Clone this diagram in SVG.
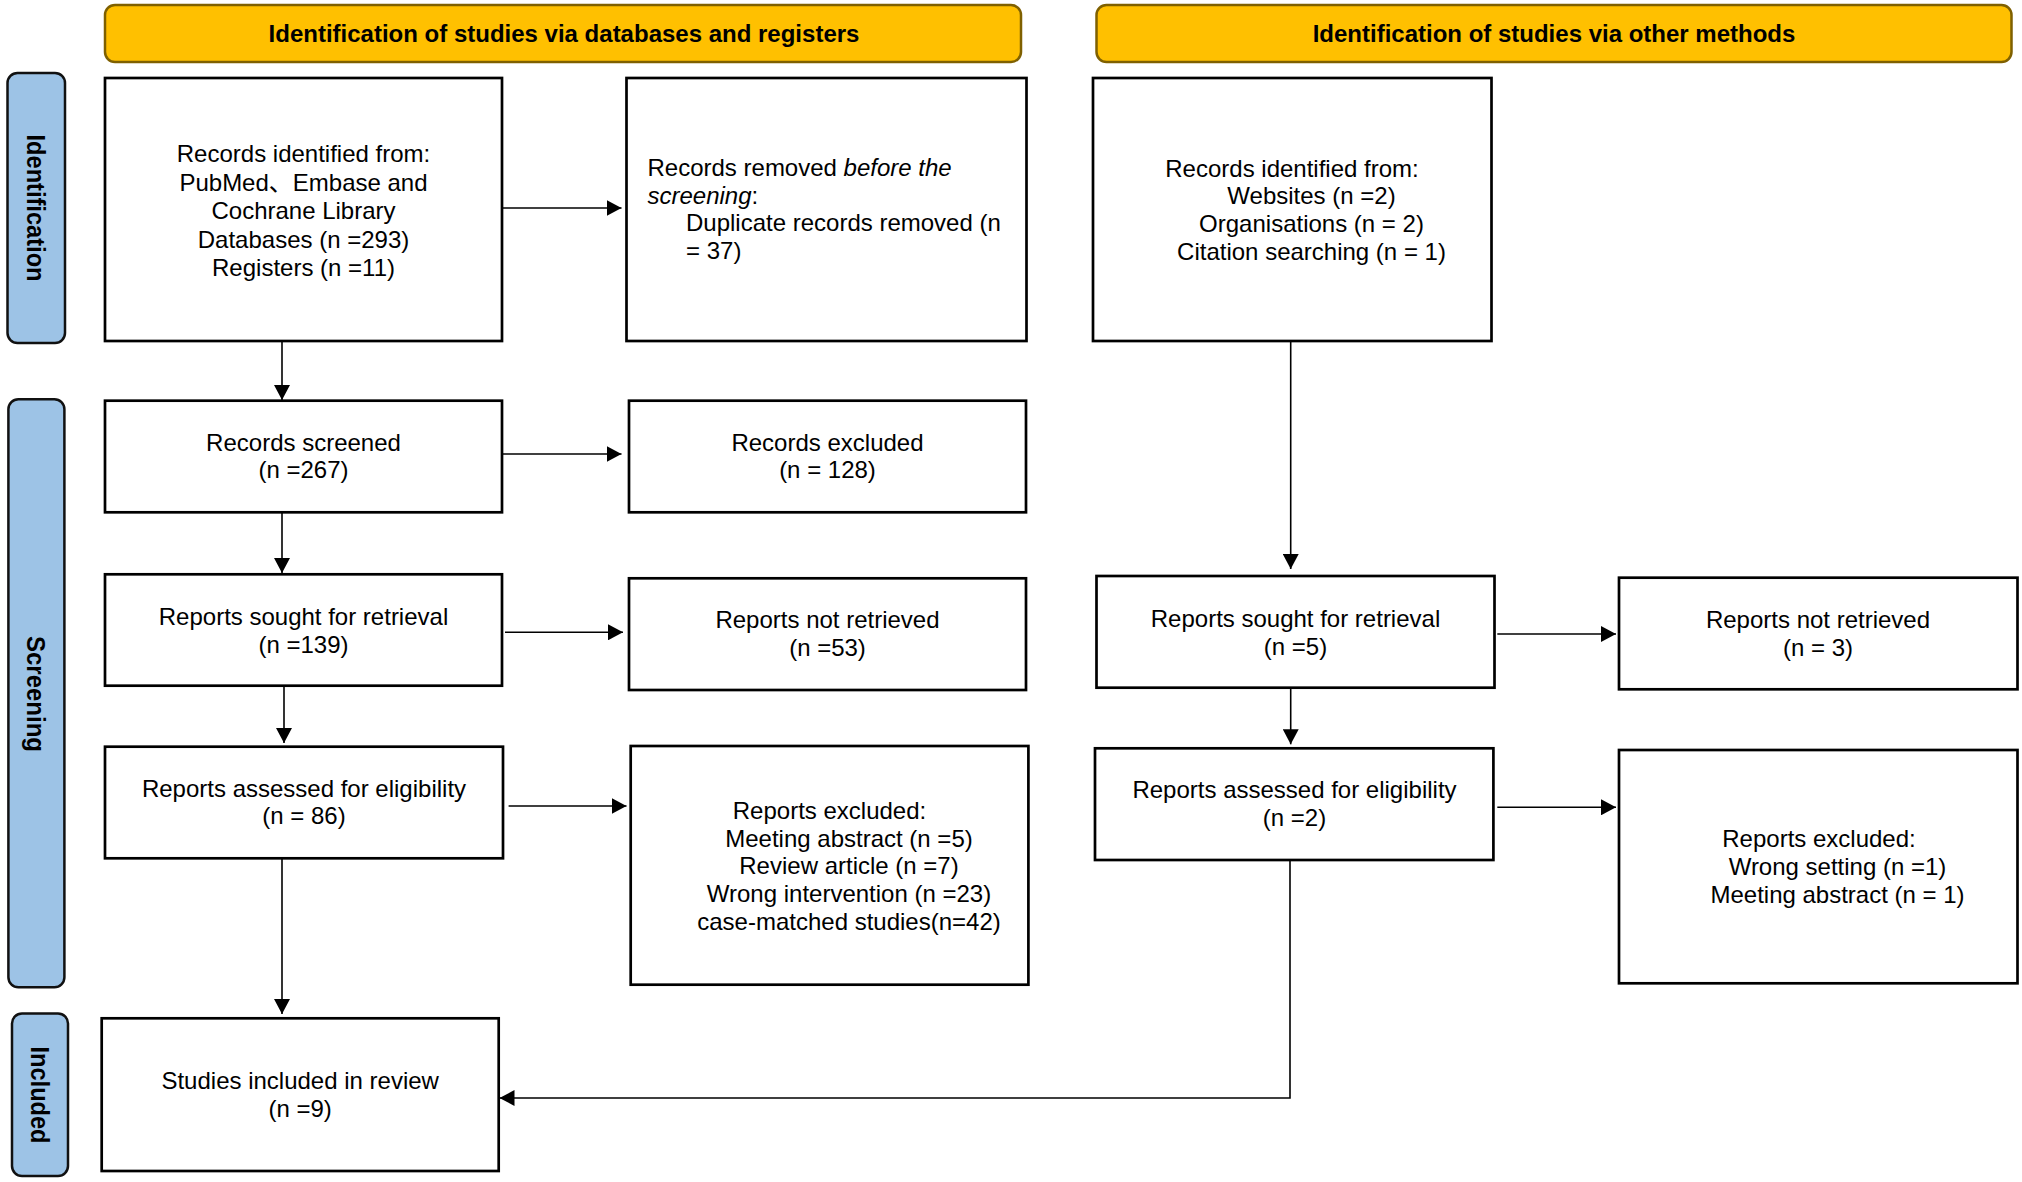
<svg xmlns="http://www.w3.org/2000/svg" width="2022" height="1182" viewBox="0 0 2022 1182">
<defs>
<style>
.hdr{fill:#FFC000;stroke:#7F6000;stroke-width:2.5}
.side{fill:#9DC3E6;stroke:#111;stroke-width:2.5}
.box{fill:#fff;stroke:#000;stroke-width:2.7}
.t{font-family:"Liberation Sans",Arial,"Noto Sans CJK SC",sans-serif;font-size:24px;fill:#000}
.c{text-anchor:middle}
.b{font-weight:bold}
.conn{fill:none;stroke:#000;stroke-width:1.6}
</style>
<marker id="ah" markerUnits="userSpaceOnUse" markerWidth="16" markerHeight="16" refX="15" refY="8" orient="auto">
<path d="M0,0 L15,8 L0,16 z" fill="#000"/>
</marker>
</defs>
<rect width="2022" height="1182" fill="#fff"/>

<g id="header-databases">
<rect class="hdr" x="105" y="5" width="916" height="57" rx="10"/>
<text class="t c b" x="564" y="42">Identification of studies via databases and registers</text>
</g>
<g id="header-other">
<rect class="hdr" x="1096.5" y="5" width="915" height="57" rx="10"/>
<text class="t c b" x="1554" y="42">Identification of studies via other methods</text>
</g>

<g id="label-identification">
<rect class="side" x="7.5" y="73" width="57.5" height="270" rx="10"/>
<text class="t c b" style="font-size:26px" transform="translate(36,208) rotate(90)" y="9.5" textLength="147" lengthAdjust="spacingAndGlyphs">Identification</text>
</g>
<g id="label-screening">
<rect class="side" x="8.4" y="399.3" width="56" height="588" rx="10"/>
<text class="t c b" style="font-size:26px" transform="translate(36,694) rotate(90)" y="9.5" textLength="116" lengthAdjust="spacingAndGlyphs">Screening</text>
</g>
<g id="label-included">
<rect class="side" x="12" y="1013.5" width="56" height="162.5" rx="10"/>
<text class="t c b" style="font-size:26px" transform="translate(40,1095) rotate(90)" y="9.5" textLength="97" lengthAdjust="spacingAndGlyphs">Included</text>
</g>

<g id="records-identified">
<rect class="box" x="105" y="78" width="397" height="263"/>
<text class="t c" x="303.5" y="162">Records identified from:</text>
<text class="t c" x="303.5" y="190.5">PubMed、Embase and</text>
<text class="t c" x="303.5" y="219">Cochrane Library</text>
<text class="t c" x="303.5" y="247.5">Databases (n =293)</text>
<text class="t c" x="303.5" y="275.5">Registers (n =11)</text>
</g>
<g id="records-removed">
<rect class="box" x="626.5" y="78" width="400" height="263"/>
<text class="t" x="647.5" y="176">Records removed <tspan font-style="italic">before the</tspan></text>
<text class="t" x="647.5" y="203.5"><tspan font-style="italic">screening</tspan>:</text>
<text class="t" x="686" y="231">Duplicate records removed (n</text>
<text class="t" x="686" y="258.5">= 37)</text>
</g>
<g id="records-other">
<rect class="box" x="1093" y="78" width="398.5" height="263"/>
<text class="t c" x="1292" y="176.5">Records identified from:</text>
<text class="t c" x="1311.5" y="204">Websites (n =2)</text>
<text class="t c" x="1311.5" y="231.5">Organisations (n = 2)</text>
<text class="t c" x="1311.5" y="259.5">Citation searching (n = 1)</text>
</g>

<g id="records-screened">
<rect class="box" x="105" y="400.7" width="397" height="111.6"/>
<text class="t c" x="303.5" y="450.7">Records screened</text>
<text class="t c" x="303.5" y="478.3">(n =267)</text>
</g>
<g id="records-excluded">
<rect class="box" x="629" y="400.7" width="397" height="111.6"/>
<text class="t c" x="827.5" y="450.7">Records excluded</text>
<text class="t c" x="827.5" y="478.3">(n = 128)</text>
</g>

<g id="sought-left">
<rect class="box" x="105" y="574.3" width="397" height="111.4"/>
<text class="t c" x="303.5" y="625">Reports sought for retrieval</text>
<text class="t c" x="303.5" y="652.7">(n =139)</text>
</g>
<g id="not-retrieved-left">
<rect class="box" x="629" y="578.3" width="397" height="111.7"/>
<text class="t c" x="827.5" y="628.3">Reports not retrieved</text>
<text class="t c" x="827.5" y="656">(n =53)</text>
</g>

<g id="assessed-left">
<rect class="box" x="105" y="746.7" width="398" height="111.6"/>
<text class="t c" x="304" y="796.7">Reports assessed for eligibility</text>
<text class="t c" x="304" y="824.3">(n = 86)</text>
</g>
<g id="excluded-left">
<rect class="box" x="630.7" y="746" width="397.7" height="238.7"/>
<text class="t c" x="829.5" y="819">Reports excluded:</text>
<text class="t c" x="849" y="846.7">Meeting abstract (n =5)</text>
<text class="t c" x="849" y="874.3">Review article (n =7)</text>
<text class="t c" x="849" y="902">Wrong intervention (n =23)</text>
<text class="t c" x="849" y="929.5">case-matched studies(n=42)</text>
</g>

<g id="included">
<rect class="box" x="101.7" y="1018.3" width="397" height="152.7"/>
<text class="t c" x="300.2" y="1089.3">Studies included in review</text>
<text class="t c" x="300.2" y="1117">(n =9)</text>
</g>

<g id="sought-right">
<rect class="box" x="1096.5" y="576" width="398" height="111.7"/>
<text class="t c" x="1295.5" y="626.7">Reports sought for retrieval</text>
<text class="t c" x="1295.5" y="655">(n =5)</text>
</g>
<g id="not-retrieved-right">
<rect class="box" x="1619" y="577.7" width="398.5" height="111.6"/>
<text class="t c" x="1818" y="628.3">Reports not retrieved</text>
<text class="t c" x="1818" y="656">(n = 3)</text>
</g>
<g id="assessed-right">
<rect class="box" x="1095" y="748.3" width="398.4" height="111.7"/>
<text class="t c" x="1294.5" y="798.3">Reports assessed for eligibility</text>
<text class="t c" x="1294.5" y="826">(n =2)</text>
</g>
<g id="excluded-right">
<rect class="box" x="1619" y="750" width="398.5" height="233.3"/>
<text class="t c" x="1819" y="847.3">Reports excluded:</text>
<text class="t c" x="1837.5" y="875">Wrong setting (n =1)</text>
<text class="t c" x="1837.5" y="902.7">Meeting abstract (n = 1)</text>
</g>

<g id="connectors">
<line class="conn" x1="503" y1="208" x2="621.5" y2="208" marker-end="url(#ah)"/>
<line class="conn" x1="282" y1="341" x2="282" y2="400" marker-end="url(#ah)"/>
<line class="conn" x1="503" y1="454" x2="621.5" y2="454" marker-end="url(#ah)"/>
<line class="conn" x1="282" y1="512.3" x2="282" y2="573" marker-end="url(#ah)"/>
<line class="conn" x1="505" y1="632.3" x2="623" y2="632.3" marker-end="url(#ah)"/>
<line class="conn" x1="284" y1="685.7" x2="284" y2="743" marker-end="url(#ah)"/>
<line class="conn" x1="508.6" y1="806" x2="626.5" y2="806" marker-end="url(#ah)"/>
<line class="conn" x1="282" y1="858.3" x2="282" y2="1014" marker-end="url(#ah)"/>
<line class="conn" x1="1290.7" y1="341" x2="1290.7" y2="569" marker-end="url(#ah)"/>
<line class="conn" x1="1497.3" y1="634" x2="1616" y2="634" marker-end="url(#ah)"/>
<line class="conn" x1="1290.7" y1="687.7" x2="1290.7" y2="744.3" marker-end="url(#ah)"/>
<line class="conn" x1="1497.3" y1="807.3" x2="1616" y2="807.3" marker-end="url(#ah)"/>
<polyline class="conn" points="1290,860 1290,1098 499.5,1098" marker-end="url(#ah)"/>
</g>
</svg>
